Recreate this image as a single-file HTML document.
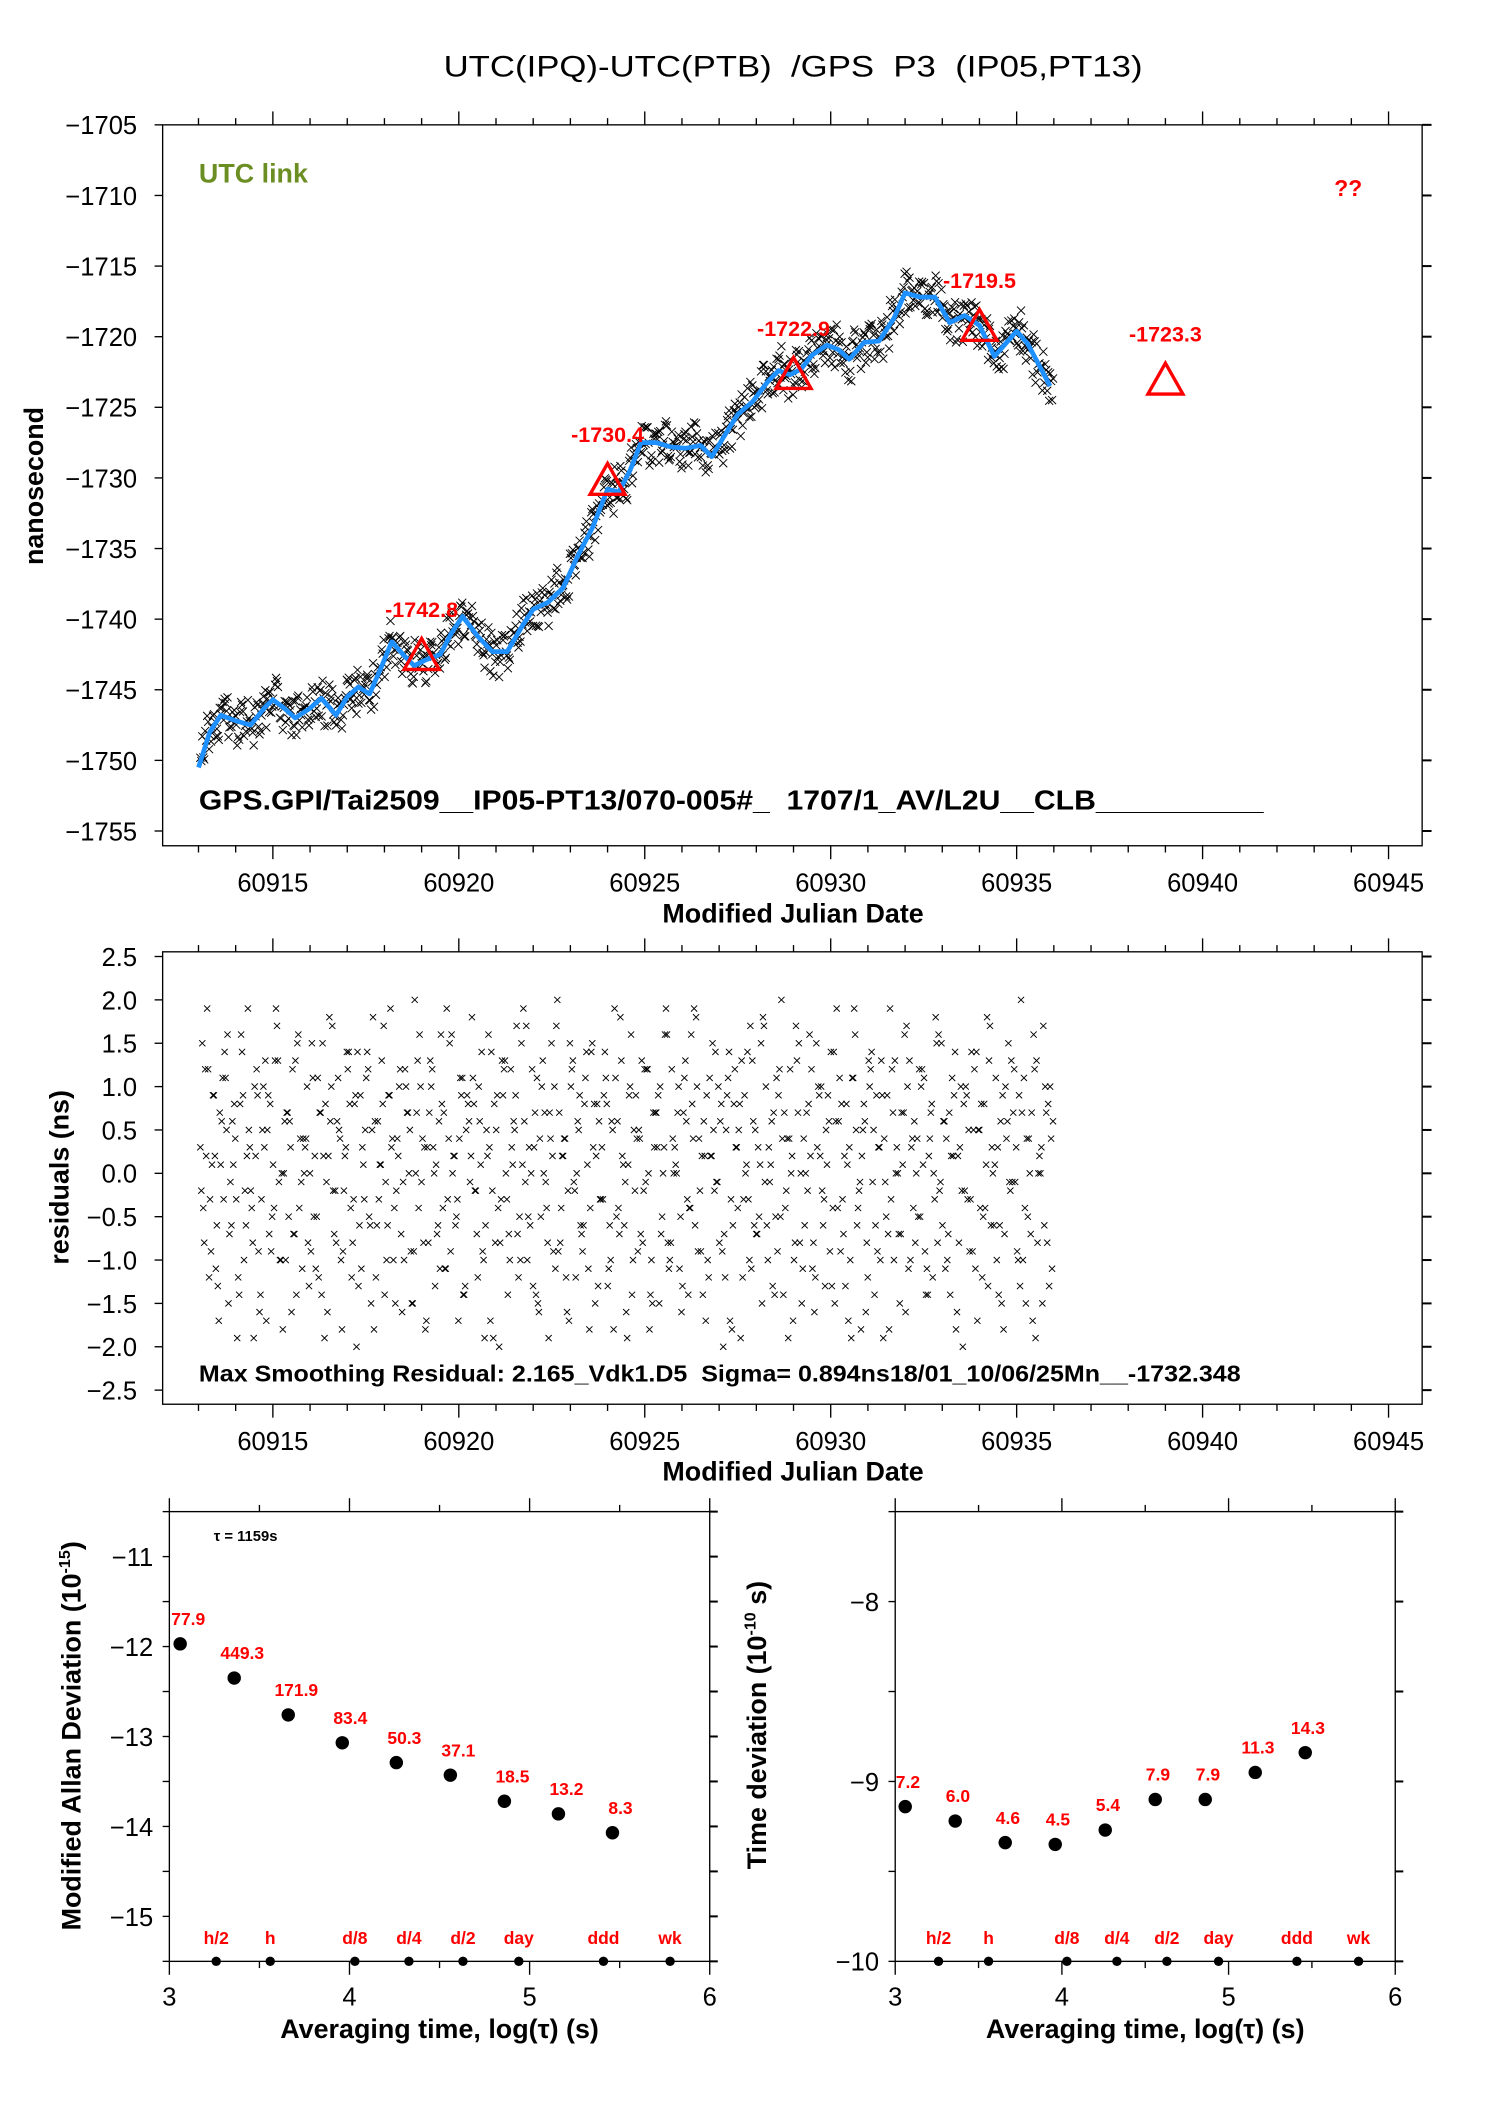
<!DOCTYPE html>
<html><head><meta charset="utf-8"><style>
html,body{margin:0;padding:0;background:#fff;}
svg{display:block;}
text{font-family:"Liberation Sans",sans-serif;white-space:pre;}
</style></head><body>
<svg id="fig" width="1488" height="2105" viewBox="0 0 1107 1568" preserveAspectRatio="none" xmlns="http://www.w3.org/2000/svg">
<rect x="0" y="0" width="1107" height="1568" fill="#fff"/>
<text x="330" y="57" font-size="22" textLength="520" lengthAdjust="spacingAndGlyphs">UTC(IPQ)-UTC(PTB)  /GPS  P3  (IP05,PT13)</text>
<g id="g1"></g>
<g id="g2"></g>
<g id="g3"></g>
<g id="g4"></g>
</svg>
<script>
// ---- data ----
const curveMjd = [60913.0,60913.3,60913.6,60914.0,60914.4,60914.8,60915.0,60915.3,60915.6,60916.0,60916.3,60916.7,60917.0,60917.3,60917.6,60917.9,60918.2,60918.5,60918.8,60919.1,60919.5,60919.8,60920.1,60920.5,60920.9,60921.3,60921.7,60922.0,60922.4,60922.8,60923.2,60923.6,60924.0,60924.3,60924.6,60924.9,60925.3,60925.7,60926.1,60926.5,60926.8,60927.1,60927.5,60927.9,60928.3,60928.6,60928.9,60929.2,60929.5,60929.9,60930.2,60930.5,60930.9,60931.3,60931.7,60932.0,60932.4,60932.8,60933.2,60933.6,60934.0,60934.4,60934.7,60935.0,60935.3,60935.6,60935.9];
const curveNs = [-1750.5,-1748,-1746.8,-1747.2,-1747.5,-1746.2,-1745.7,-1746.3,-1747,-1746.3,-1745.6,-1746.8,-1745.5,-1744.8,-1745.3,-1743.5,-1741.6,-1742.5,-1743.3,-1742.9,-1742.5,-1741,-1739.8,-1741.2,-1742.3,-1742.3,-1740.5,-1739.3,-1738.8,-1737.8,-1735.5,-1733.5,-1730.8,-1731,-1729.5,-1727.5,-1727.5,-1727.8,-1727.9,-1727.7,-1728.5,-1727.2,-1725.5,-1724.6,-1723.2,-1722.4,-1722.7,-1722.3,-1721.3,-1720.6,-1720.9,-1721.6,-1720.4,-1720.3,-1718.7,-1716.9,-1717.2,-1717.2,-1719,-1718.5,-1719.2,-1721.4,-1720.5,-1719.6,-1720.5,-1722,-1723.5];
const residuals = [0.3,-0.8,1.2,0.1,-1.1,0.7,-0.3,1.6,-0.6,0.4,-1.4,0.9,0.2,-0.2,1.0,-0.9,0.5,-1.7,0.8,-0.4,
1.3,0.0,-1.0,0.6,-0.7,1.5,-0.1,0.3,-1.3,1.1,-0.5,0.7,-1.9,0.2,1.7,-0.8,0.4,-0.2,1.2,-1.2,
0.9,-0.6,0.1,1.4,-1.5,0.6,-0.3,0.8,-1.0,1.9,-0.4,0.2,-1.6,1.0,0.5,-0.9,1.3,-0.1,-1.8,0.7,
0.3,-0.7,1.6,-1.1,0.4,0.0,-0.5,1.1,-1.4,0.8,1.8,-0.2,0.6,-1.0,0.2,1.4,-0.8,-2.0,0.9,-0.3,
1.2,0.5,-1.2,0.1,1.7,-0.6,0.3,-1.5,1.0,-0.1,0.7,-0.9,2.0,-0.4,0.4,-1.7,1.3,0.0,-0.6,0.8,
-1.1,1.5,0.2,-0.3,0.9,-1.3,0.6,1.1,-0.7,0.1,-1.9,1.6,-0.2,0.5,-0.8,1.2,-1.4,0.3,0.9,-0.5,
1.9,-1.0,0.0,0.7,-1.6,1.3,-0.4,0.4,1.0,-0.9,0.2,-1.2,1.5,-0.1,0.6,-0.7,1.1,-1.8,0.3,0.8,
-0.3,1.4,-1.1,0.5,-0.5,1.8,-0.6,0.1,-1.4,0.9,0.4,-0.2,1.2,-1.0,0.7,-1.5,0.0,1.6,-0.8,0.3,
1.0,-1.3,0.6,-0.4,1.9,-0.9,0.2,-1.7,1.1,0.5,-0.1,0.8,-1.2,1.4,-0.6,0.3,-1.9,0.9,-0.3,1.3,
-0.7,0.1,1.7,-1.0,0.6,-0.5,1.2,-1.4,0.4,0.0,-0.8,1.5,-1.1,0.7,0.2,-1.6,1.0,-0.2,0.5,-0.9,
1.4,-0.4,0.8,-1.3,0.3,1.1,-0.6,-1.8,0.6,1.3,-0.1,0.9,-1.0,0.4,-0.7,1.2,0.0,-1.5,0.7,1.0];
const resStart = 60913.05, resEnd = 60935.9;
const triMjd = [60919,60924,60929,60934,60939];
const triNs = [-1742.8,-1730.4,-1722.9,-1719.5,-1723.3];
const triLabels = ["-1742.8","-1730.4","-1722.9","-1719.5","-1723.3"];
const mjdTicks = [60915,60920,60925,60930,60935,60940,60945];
const nsTicks = [-1705,-1710,-1715,-1720,-1725,-1730,-1735,-1740,-1745,-1750,-1755];
const resTicks = [2.5,2.0,1.5,1.0,0.5,0.0,-0.5,-1.0,-1.5,-2.0,-2.5];
const adevLogTau = [3.06,3.36,3.66,3.96,4.26,4.56,4.86,5.16,5.46];
const adevVals = [-11.97,-12.35,-12.76,-13.07,-13.29,-13.43,-13.72,-13.86,-14.07];
const adevLabels = ["77.9","449.3","171.9","83.4","50.3","37.1","18.5","13.2","8.3"];
const tdevVals = [-9.14,-9.22,-9.34,-9.35,-9.27,-9.10,-9.10,-8.95,-8.84];
const tdevLabels = ["7.2","6.0","4.6","4.5","5.4","7.9","7.9","11.3","14.3"];
const markLogTau = [3.26,3.56,4.03,4.33,4.63,4.94,5.41,5.78];
const markLabels = ["h/2","h","d/8","d/4","d/2","day","ddd","wk"];
const adevTicks = [-11,-12,-13,-14,-15];
const tdevTicks = [-8,-9,-10];
const logTicks = [3,4,5,6];

const NS="http://www.w3.org/2000/svg";
function mk(parent,tag,a,txt){const e=document.createElementNS(NS,tag);for(const k in a)e.setAttribute(k,a[k]);if(txt!==undefined)e.textContent=txt;parent.appendChild(e);return e;}
function interp(t){if(t<=curveMjd[0])return curveNs[0];for(let i=1;i<curveMjd.length;i++){if(t<=curveMjd[i]){const f=(t-curveMjd[i-1])/(curveMjd[i]-curveMjd[i-1]);return curveNs[i-1]+f*(curveNs[i]-curveNs[i-1]);}}return curveNs[curveNs.length-1];}
function xmark(g,x,y,s){return mk(g,'path',{d:`M${x-s} ${y-s}L${x+s} ${y+s}M${x-s} ${y+s}L${x+s} ${y-s}`,stroke:'#000','stroke-width':0.7,fill:'none'});}

// ---- panel 1 ----
const L=121,R=1058;
const X1=m=>203+(m-60915)*27.667;
const g1=document.getElementById('g1');
const Y1=v=>93+(-1705-v)*10.52;
(function(){
  const T1=93,B1=630;
  const fr=mk(g1,'rect',{x:L,y:T1,width:R-L,height:B1-T1,fill:'none',stroke:'#000','stroke-width':1});
  
  
  for(let m=60913;m<=60945;m++){const big=m%5===0;const x=X1(m);
    mk(g1,'line',{x1:x,y1:T1,x2:x,y2:T1-(big?10:5),stroke:'#000'});
    mk(g1,'line',{x1:x,y1:B1,x2:x,y2:B1+(big?10:5),stroke:'#000'});}
  mjdTicks.forEach(m=>{const t=mk(g1,'text',{x:X1(m),y:664,'font-size':19,'text-anchor':'middle'},String(m));
    
    });
  nsTicks.forEach(v=>{const y=Y1(v);
    mk(g1,'line',{x1:L,y1:y,x2:L-6,y2:y,stroke:'#000'});
    mk(g1,'line',{x1:R,y1:y,x2:R+7,y2:y,stroke:'#000','stroke-width':1.5});
    const t=mk(g1,'text',{x:102,y:y+7,'font-size':19,'text-anchor':'end'},'\u2212'+String(-v));
    
    });
  const xt=mk(g1,'text',{x:590,y:687,'font-size':20,'font-weight':'bold','text-anchor':'middle'},'Modified Julian Date');
  
  
  const yt=mk(g1,'text',{x:0,y:0,'font-size':20,'font-weight':'bold','text-anchor':'middle',transform:'translate(32,362) rotate(-90)'},'nanosecond');
  
  
  const ut=mk(g1,'text',{x:148,y:136,'font-size':20,'font-weight':'bold',fill:'#6b8e23'},'UTC link');
  
  
  const qq=mk(g1,'text',{x:1003,y:146,'font-size':17,'font-weight':'bold',fill:'#f00','text-anchor':'middle'},'??');
  
  
  const ft=mk(g1,'text',{x:148,y:603,'font-size':20.5,'font-weight':'bold',textLength:792,lengthAdjust:'spacingAndGlyphs'},'GPS.GPI/Tai2509__IP05-PT13/070-005#_  1707/1_AV/L2U__CLB__________');
  
  
  const sg=mk(g1,'g',{});
  
  
  const n=residuals.length, dt=(resEnd-resStart)/(n-1);
  residuals.forEach((r,i)=>{const t=resStart+i*dt;
    const r2=residuals[(i+37)%n], r3=residuals[(i+101)%n], r4=residuals[(i+163)%n];
    xmark(sg,X1(t),Y1(interp(t)+r*0.9),3);
    xmark(sg,X1(t+dt*0.25),Y1(interp(t+dt*0.25)+r2*0.9),3);
    xmark(sg,X1(t+dt*0.5),Y1(interp(t+dt*0.5)+r3*0.9),3);
    xmark(sg,X1(t+dt*0.75),Y1(interp(t+dt*0.75)+r4*0.9),3);});
  let d='';curveMjd.forEach((m,i)=>{d+=(i?'L':'M')+X1(m).toFixed(1)+' '+Y1(curveNs[i]).toFixed(1);});
  const cv=mk(g1,'path',{d:d,fill:'none',stroke:'#1e90ff','stroke-width':3.5,'stroke-linejoin':'round'});
  
  
  triMjd.forEach((m,i)=>{const x=X1(m),y=Y1(triNs[i]);
    const tr=mk(g1,'path',{d:`M${x} ${y-15}L${x+13} ${y+8}L${x-13} ${y+8}Z`,fill:'none',stroke:'#f00','stroke-width':2.5});
    
    
    const tl=mk(g1,'text',{x:x,y:y-31,'font-size':16,'font-weight':'bold',fill:'#f00','text-anchor':'middle'},triLabels[i]);
    
    });
})();

// ---- panel 2 ----
(function(){
  const g2=document.getElementById('g2');
  const T2=709,B2=1046;
  const Y2=v=>874-v*64.6;
  const fr=mk(g2,'rect',{x:L,y:T2,width:R-L,height:B2-T2,fill:'none',stroke:'#000'});
  
  
  for(let m=60913;m<=60945;m++){const big=m%5===0;const x=X1(m);
    mk(g2,'line',{x1:x,y1:T2,x2:x,y2:T2-(big?10:5),stroke:'#000'});
    mk(g2,'line',{x1:x,y1:B2,x2:x,y2:B2+(big?10:5),stroke:'#000'});}
  mjdTicks.forEach(m=>{const t=mk(g2,'text',{x:X1(m),y:1080,'font-size':19,'text-anchor':'middle'},String(m));
    
    });
  resTicks.forEach(v=>{const y=Y2(v);
    mk(g2,'line',{x1:L,y1:y,x2:L-6,y2:y,stroke:'#000'});
    mk(g2,'line',{x1:R,y1:y,x2:R+7,y2:y,stroke:'#000','stroke-width':1.5});
    const t=mk(g2,'text',{x:102,y:y+7,'font-size':19,'text-anchor':'end'},(v<0?'\u2212':'')+Math.abs(v).toFixed(1));
    
    });
  const xt=mk(g2,'text',{x:590,y:1103,'font-size':20,'font-weight':'bold','text-anchor':'middle'},'Modified Julian Date');
  
  
  const yt=mk(g2,'text',{x:0,y:0,'font-size':20,'font-weight':'bold','text-anchor':'middle',transform:'translate(51,877) rotate(-90)'},'residuals (ns)');
  
  
  const ft=mk(g2,'text',{x:148,y:1029,'font-size':17.5,'font-weight':'bold',textLength:775,lengthAdjust:'spacingAndGlyphs'},'Max Smoothing Residual: 2.165_Vdk1.D5  Sigma= 0.894ns18/01_10/06/25Mn__-1732.348');
  
  
  const sg=mk(g2,'g',{});
  
  
  const n=residuals.length, dt=(resEnd-resStart)/(n-1);
  residuals.forEach((r,i)=>{const t=resStart+i*dt;
    xmark(sg,X1(t),Y2(r),2.3);
    xmark(sg,X1(t+dt*0.25),Y2(residuals[(i+37)%n]),2.3);
    xmark(sg,X1(t+dt*0.5),Y2(residuals[(i+101)%n]),2.3);
    xmark(sg,X1(t+dt*0.75),Y2(residuals[(i+163)%n]),2.3);});
})();

// ---- stability panels ----
function stab(g,x0,x1,yTop,yBot,vTop,vBot,ticks,vals,labels,lblDy,title,titleX,titleY,note){
  const X=l=>x0+(l-3)*(x1-x0)/3;
  const Y=v=>yTop+(vTop-v)*(yBot-yTop)/(vTop-vBot);
  const fr=mk(g,'rect',{x:x0,y:yTop,width:x1-x0,height:yBot-yTop,fill:'none',stroke:'#000'});
  
  
  for(let l=3;l<=6.001;l+=0.5){const big=Math.abs(l-Math.round(l))<0.01;const x=X(l);
    mk(g,'line',{x1:x,y1:yTop,x2:x,y2:yTop-(big?10:5),stroke:'#000'});
    mk(g,'line',{x1:x,y1:yBot,x2:x,y2:yBot+(big?10:5),stroke:'#000'});}
  logTicks.forEach(l=>{const t=mk(g,'text',{x:X(l),y:yBot+33,'font-size':19,'text-anchor':'middle'},String(l));
    
    });
  for(let v=Math.ceil(vBot*2)/2;v<=vTop+0.001;v+=0.5){const y=Y(v);
    mk(g,'line',{x1:x0,y1:y,x2:x0-5,y2:y,stroke:'#000'});
    mk(g,'line',{x1:x1,y1:y,x2:x1+6,y2:y,stroke:'#000','stroke-width':1.5});}
  ticks.forEach(v=>{const t=mk(g,'text',{x:x0-12,y:Y(v)+7,'font-size':19,'text-anchor':'end'},'\u2212'+String(-v));
    
    });
  const xt=mk(g,'text',{x:(x0+x1)/2,y:yBot+57,'font-size':20,'font-weight':'bold','text-anchor':'middle'},'Averaging time, log(\u03c4) (s)');
  
  
  const yt=mk(g,'text',{x:0,y:0,'font-size':20,'font-weight':'bold','text-anchor':'middle',transform:`translate(${titleX},${titleY}) rotate(-90)`});
  
  
  yt.appendChild(document.createTextNode(title[0]));
  mk(yt,'tspan',{'font-size':12,dy:-8},title[1]);
  mk(yt,'tspan',{dy:8},title[2]);
  adevLogTau.forEach((l,i)=>{const c=mk(g,'circle',{cx:X(l),cy:Y(vals[i]),r:5,fill:'#000'});
    
    
    const t=mk(g,'text',{x:X(l)+lblDy[0],y:Y(vals[i])-lblDy[1],'font-size':13,'font-weight':'bold',fill:'#f00','text-anchor':'middle'},labels[i]);
    
    });
  markLogTau.forEach((l,i)=>{const c=mk(g,'circle',{cx:X(l),cy:yBot,r:3.5,fill:'#000'});
    
    
    const t=mk(g,'text',{x:X(l),y:yBot-13,'font-size':13,'font-weight':'bold',fill:'#f00','text-anchor':'middle'},markLabels[i]);
    
    });
  if(note){const t=mk(g,'text',{x:x0+33,y:yTop+22,'font-size':11,'font-weight':'bold'},note);
    
    }
}
stab(document.getElementById('g3'),126,528,1126,1461,-10.5,-15.5,adevTicks,adevVals,adevLabels,[6,14],['Modified Allan Deviation (10','-15',')'],60,1293,'\u03c4 = 1159s');
stab(document.getElementById('g4'),666,1038,1126,1461,-7.5,-10,tdevTicks,tdevVals,tdevLabels,[2,14],['Time deviation (10','-10',' s)'],570,1285,null);
</script>
</body></html>
